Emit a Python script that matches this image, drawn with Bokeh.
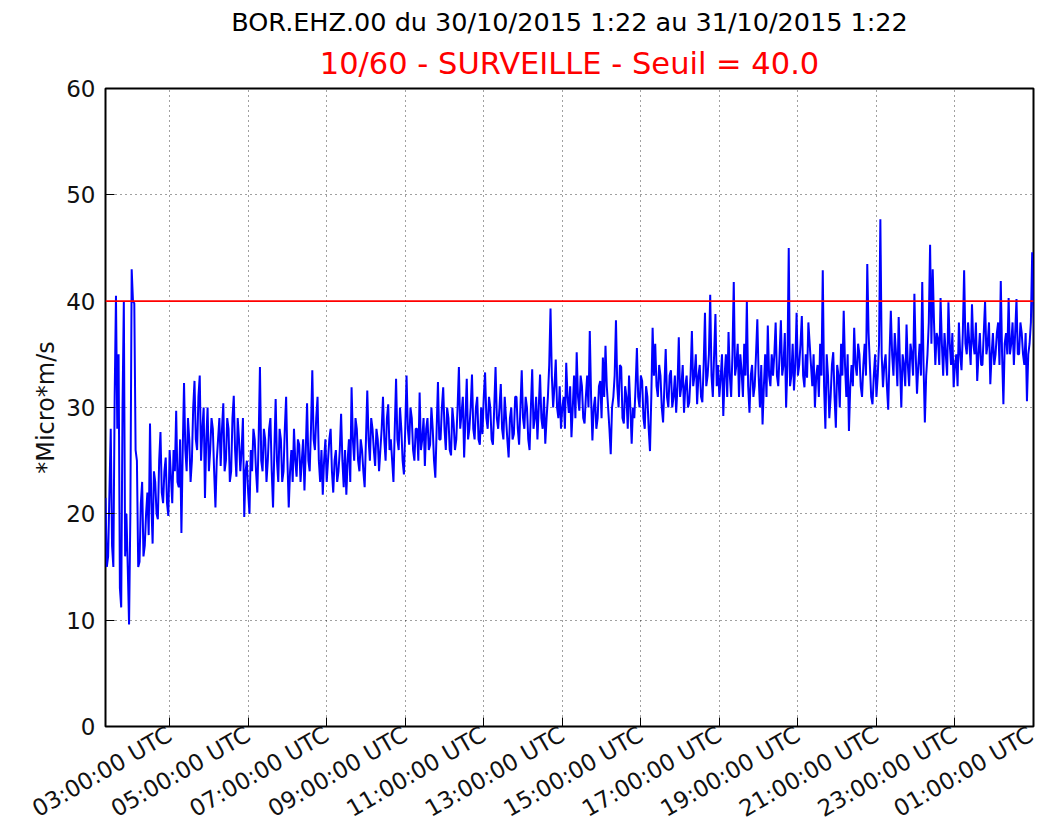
import math
from bokeh.plotting import figure
from bokeh.models import Span, Title, FixedTicker, Range1d
from bokeh.embed import file_html
from bokeh.resources import INLINE

# ---- data ----
title_top = "BOR.EHZ.00 du 30/10/2015 1:22 au 31/10/2015 1:22"
title_sub = "10/60 - SURVEILLE - Seuil = 40.0"
y_label = "*Micro*m/s"
threshold = 40.0

start_hour = 1 + 22 / 60.0      # 30/10/2015 01:22
end_hour = 25.0                 # 31/10/2015 01:00 (axis end)
step_hour = 2 / 60.0            # one value every 2 minutes

tick_hours = [3, 5, 7, 9, 11, 13, 15, 17, 19, 21, 23, 25]
tick_labels = ["03:00:00 UTC", "05:00:00 UTC", "07:00:00 UTC", "09:00:00 UTC",
               "11:00:00 UTC", "13:00:00 UTC", "15:00:00 UTC", "17:00:00 UTC",
               "19:00:00 UTC", "21:00:00 UTC", "23:00:00 UTC", "01:00:00 UTC"]
y_ticks = [0, 10, 20, 30, 40, 50, 60]

# values, hour by hour:
# hNN = samples at even 4-minute marks, mNN = samples 2 minutes later
h01 = [21.5, 16, 28, 15, 40.5, 35, 11.2, 40, 20, 9.6, 43, 39.8, 25, 15.5, 23]
m01 = [15, 22, 17, 31, 28, 13, 30, 16, 15, 20, 40, 26, 15, 21, 16]
h02 = [17, 22, 28.5, 17.2, 23, 19.5, 27.7, 21, 25.3, 19.8, 23.5, 26, 29.7, 22.5, 18.2]
m02 = [20, 18, 21, 24, 20, 25, 22, 24, 21, 26, 21, 24, 23, 27, 26]
h03 = [32.3, 24, 27, 25, 32.5, 26, 33, 28, 21.5, 30, 26, 28, 20.6, 27, 24.5]
m03 = [26, 29, 23, 30, 27, 31, 25, 30, 27, 24, 29, 24, 25, 29, 28]
h04 = [30.4, 25, 28, 24, 31.1, 23.5, 27, 26, 19.7, 25, 20, 24, 27, 22, 33.8]
m04 = [24, 29, 23, 29, 26, 29, 24, 29, 24, 22, 26, 28, 24, 27, 25]
h05 = [24, 27, 25, 29, 20.6, 30.8, 23, 27, 24, 31, 20.6, 26, 28, 23.5, 26.5]
m05 = [28, 23, 28, 24, 26, 25, 28, 23, 28, 25, 24, 23, 25, 27, 23]
h06 = [25, 22.2, 30.4, 24, 33.5, 26, 31, 23, 21.8, 27, 25, 28, 22, 26, 24]
m06 = [27, 26, 25, 28, 27, 29, 25, 26, 25, 23, 27, 24, 25, 23, 26]
h07 = [29.4, 22.5, 21.8, 27, 31.9, 25, 28, 24, 26, 22.5, 31.6, 25, 28, 24.5, 27]
m07 = [25, 26, 25, 23, 27, 29, 25, 27, 24, 27, 27, 29, 26, 28, 24]
h08 = [26, 31, 25, 30.3, 27, 23, 32.7, 26, 28, 23.7, 33, 26.5, 29, 25, 28]
m08 = [28, 27, 29, 26, 25, 28, 27, 30, 25, 28, 28, 30, 26, 28, 25]
h09 = [31.4, 27, 24.5, 29, 26.5, 28, 23.4, 32.4, 27, 31.9, 26, 29, 25.5, 28.5, 27]
m09 = [26, 29, 28, 26, 30, 25, 28, 27, 30, 28, 30, 26, 30, 26, 30]
h10 = [33.8, 29.4, 25.3, 32.7, 28, 33.1, 27, 31, 26.5, 27.5, 33.3, 28, 30, 26.5, 33.8]
m10 = [28, 31, 29, 27, 30, 28, 30, 27, 30, 31, 29, 31, 27, 30, 29]
h11 = [28, 32.2, 27, 29, 25.3, 30, 27.5, 31, 26.5, 33.5, 28, 30, 26, 33.6, 29]
m11 = [30, 28, 31, 27, 29, 27, 31, 28, 30, 29, 31, 27, 30, 28, 31]
h12 = [27, 33.1, 28, 26.6, 31, 39.3, 30, 34.5, 29, 28, 31, 34.2, 29.5, 27.2, 33]
m12 = [30, 29, 31, 29, 34, 33, 32, 30, 32, 30, 28, 31, 32, 30, 29]
h13 = [35.2, 29.7, 32, 28.5, 33, 37.2, 26.9, 31, 29, 32.5, 34.7, 35.8, 30, 25.6, 31]
m13 = [31, 33, 29, 31, 30, 31, 30, 28, 32, 29, 31, 32, 28, 30, 33]
h14 = [38.2, 30, 33.8, 28.5, 31, 33, 26.6, 29, 35.6, 30, 32.5, 28, 31, 25.9, 37.5]
m14 = [32, 34, 29, 32, 28, 30, 30, 32, 31, 33, 29, 32, 28, 31, 33]
h15 = [36, 31, 33, 28.6, 35.5, 30, 33.5, 31, 29.5, 36.6, 32, 29.5, 33, 30.5, 37.2]
m15 = [32, 34, 30, 32, 31, 33, 30, 33, 32, 31, 34, 32, 30, 33, 32]
h16 = [33, 30.3, 34, 30.5, 38.9, 33, 40.6, 31, 38.8, 34, 32.8, 29.2, 35, 37.1, 31]
m16 = [35, 33, 31, 34, 32, 35, 33, 35, 32, 31, 35, 33, 31, 33, 35]
h17 = [41.8, 34, 31, 33.4, 36, 40, 29.5, 34, 32, 38.3, 30, 28.4, 35, 37.7, 32]
m17 = [33, 36, 35, 31, 33, 32, 33, 31, 35, 33, 34, 32, 31, 33, 35]
h18 = [33, 38, 32, 38.2, 34, 30, 45, 33, 31.6, 38.9, 34, 38.6, 31.9, 32.8, 36]
m18 = [35, 33, 35, 33, 37, 34, 32, 36, 34, 33, 36, 33, 35, 38, 34]
h19 = [32, 30, 34, 36, 42.9, 28, 33, 31, 35.2, 28.1, 33, 36, 39.1, 31, 27.8]
m19 = [35, 33, 31, 33, 32, 35, 29, 34, 31, 34, 30, 33, 34, 35, 32]
h20 = [34, 37.5, 33, 35, 31, 36, 43.5, 34, 30.3, 35, 33, 47.7, 31.9, 35, 29.8]
m20 = [32, 34, 36, 32, 34, 33, 37, 31, 33, 31, 36, 35, 34, 32, 35]
h21 = [39.1, 33, 35, 38.5, 30, 34, 37.8, 32, 35, 40.7, 31.3, 36, 41.8, 28.6, 35]
m21 = [35, 37, 32, 34, 35, 32, 34, 36, 33, 35, 34, 33, 34, 33, 38]
h22 = [45.3, 43, 34, 36.5, 40.3, 33, 35, 39.9, 34, 31.9, 35, 38, 33.5, 42.9, 35]
m22 = [36, 38, 37, 34, 36, 37, 33, 36, 37, 34, 32, 35, 37, 36, 38]
h23 = [36, 39.7, 35, 32.5, 37, 34, 40, 36, 32.2, 37, 35, 38, 41.9, 30.3, 37]
m23 = [34, 36, 38, 35, 34, 37, 35, 38, 35, 34, 37, 34, 35, 36, 35]
h24 = [40.3, 36, 34, 40.2, 35, 37, 34, 30.6, 36, 44.6, 36]
m24 = [35, 38, 37, 35, 38, 35, 37, 35, 38, 39, 37]

even_samples = (h01 + h02 + h03 + h04 + h05 + h06 + h07 + h08 + h09 + h10 + h11 + h12
                + h13 + h14 + h15 + h16 + h17 + h18 + h19 + h20 + h21 + h22 + h23 + h24)
odd_samples = (m01 + m02 + m03 + m04 + m05 + m06 + m07 + m08 + m09 + m10 + m11 + m12
               + m13 + m14 + m15 + m16 + m17 + m18 + m19 + m20 + m21 + m22 + m23 + m24)
values = [v for pair in zip(even_samples, odd_samples) for v in pair]
times = [start_hour + i * step_hour for i in range(len(values))]

FONT = "DejaVu Sans"

p = figure(width=1037, height=838, output_backend="svg", toolbar_location=None,
           x_range=Range1d(start_hour, end_hour), y_range=Range1d(0, 60),
           min_border_left=105, min_border_right=4, min_border_bottom=112,
           min_border_top=88, background_fill_color="white",
           border_fill_color="white")

p.title = Title(text=title_top, text_color="black", text_font_size="25.5px",
                text_font=FONT, text_font_style="normal", align="center",
                standoff=0)
p.add_layout(Title(text=title_sub, text_color="#ff0000", text_font_size="30.5px",
                   text_font=FONT, text_font_style="normal", align="center",
                   standoff=15), "above")

p.line(times, values, line_color="#0000ff", line_width=2)
p.add_layout(Span(location=threshold, dimension="width", line_color="#ff0000",
                  line_width=1.6))

p.outline_line_color = "black"
p.outline_line_width = 2

xa = p.xaxis[0]
xa.ticker = FixedTicker(ticks=tick_hours)
xa.major_label_overrides = {h: lab for h, lab in zip(tick_hours, tick_labels)}
xa.major_label_orientation = math.pi / 6
xa.major_label_text_font = FONT
xa.major_label_text_font_size = "23px"
xa.major_label_text_color = "#111111"
xa.major_tick_in = 9
xa.major_tick_out = 0
xa.minor_tick_line_color = None
xa.axis_line_color = None
xa.major_label_standoff = 6

ya = p.yaxis[0]
ya.ticker = FixedTicker(ticks=y_ticks)
ya.major_label_text_font = FONT
ya.major_label_text_font_size = "23px"
ya.major_label_text_color = "#111111"
ya.major_tick_in = 9
ya.major_tick_out = 0
ya.minor_tick_line_color = None
ya.axis_line_color = None
ya.major_label_standoff = 10
ya.axis_label = y_label
ya.axis_label_text_font = FONT
ya.axis_label_text_font_size = "24px"
ya.axis_label_text_font_style = "normal"
ya.axis_label_text_color = "#111111"
ya.axis_label_standoff = 3

for g in (p.xgrid[0], p.ygrid[0]):
    g.grid_line_color = "black"
    g.grid_line_alpha = 0.75
    g.grid_line_dash = "1 4"
    g.grid_line_width = 1
p.xgrid[0].ticker = FixedTicker(ticks=tick_hours)
p.ygrid[0].ticker = FixedTicker(ticks=y_ticks)

out = file_html(p, INLINE)
open("out.html", "w").write(out)
